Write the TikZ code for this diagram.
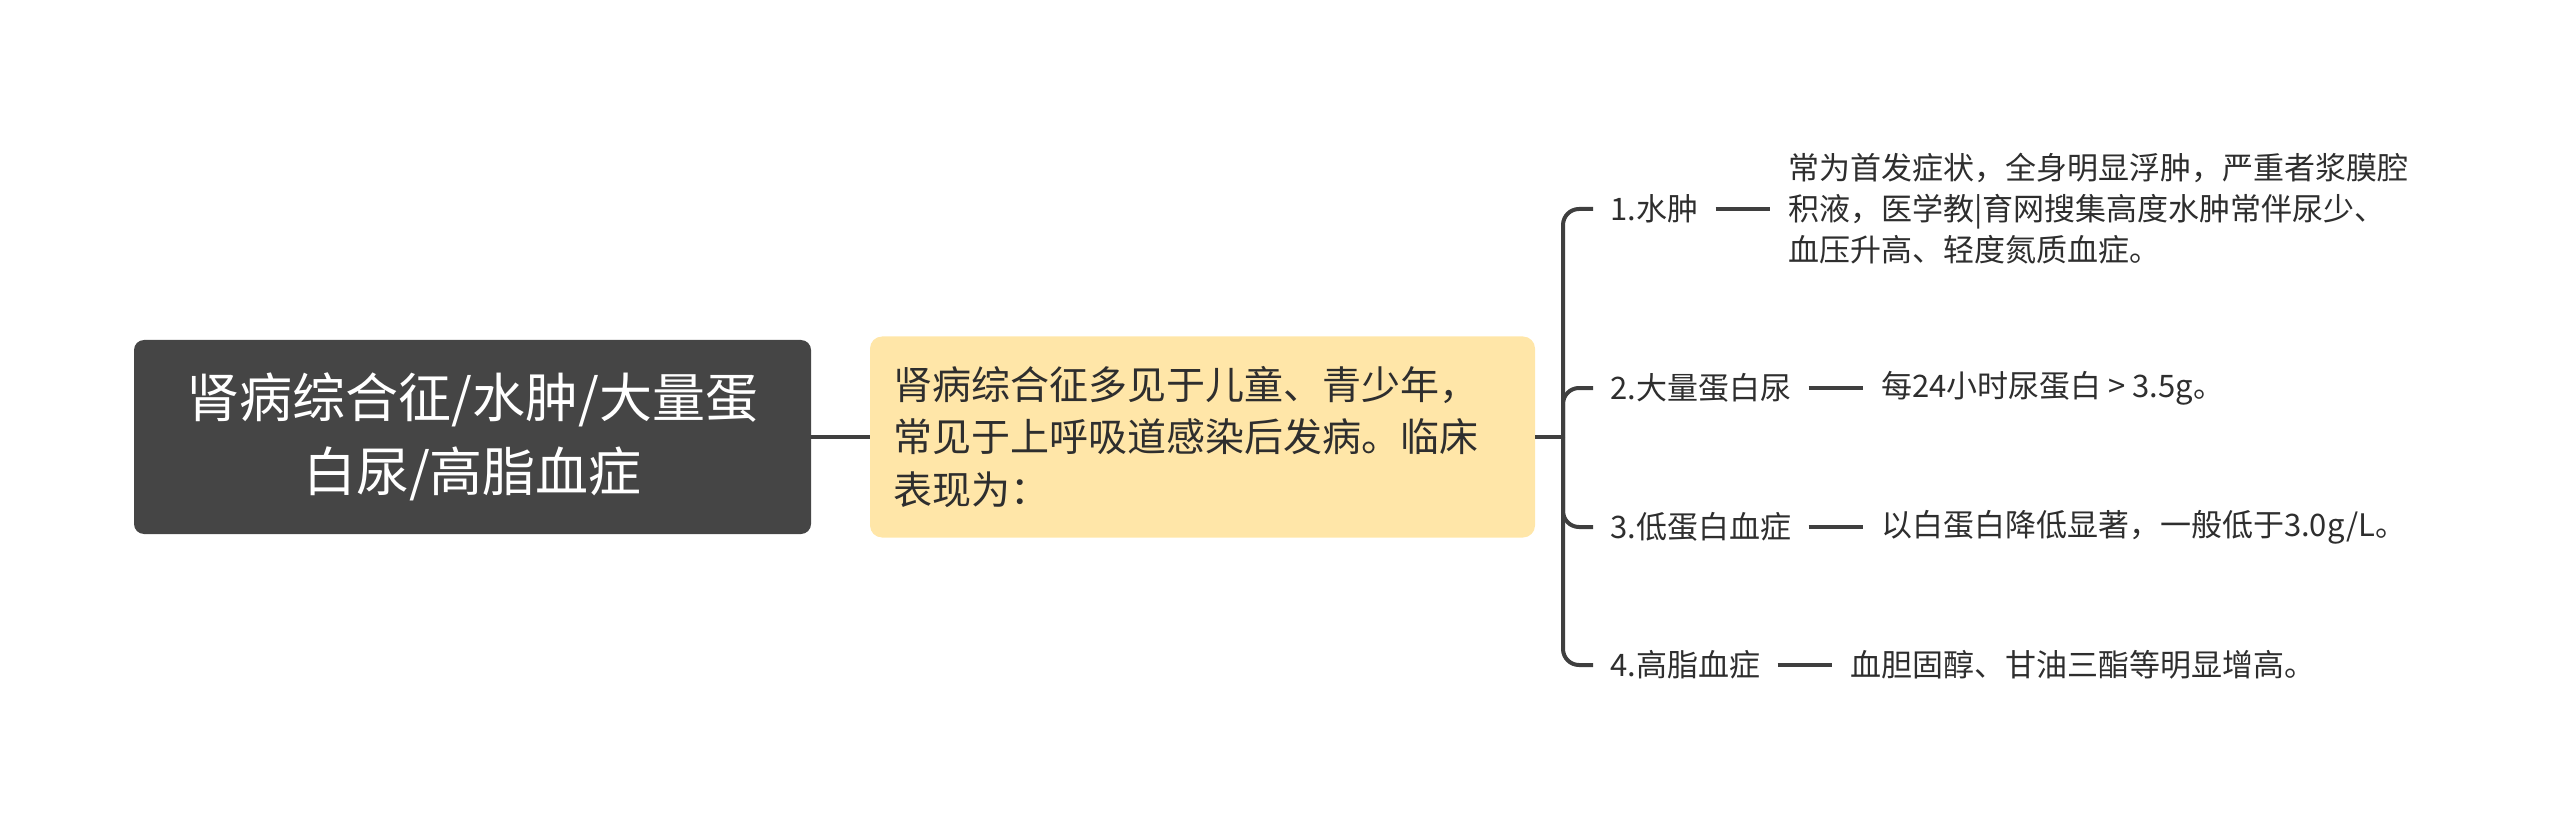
\documentclass[tikz,border=0pt]{standalone}
\usepackage{fontspec}
\newfontfamily\cjkfont{Noto Sans CJK SC}
\usetikzlibrary{positioning}
\definecolor{rootfill}{HTML}{454545}
\definecolor{midfill}{HTML}{FFE6A8}
\definecolor{linec}{HTML}{3F3F3F}
\definecolor{textc}{HTML}{2E2E2E}
\begin{document}
\begin{tikzpicture}[x=0.5pt,y=-0.5pt,
  rootbox/.style={fill=rootfill, rounded corners=5pt, minimum width=338.5pt, minimum height=97pt,
    text=white, align=center, inner sep=0pt, font=\cjkfont\fontsize{26.5pt}{37pt}\selectfont},
  midbox/.style={fill=midfill, rounded corners=6pt, minimum width=332.5pt, minimum height=100.5pt,
    text=textc, align=left, text width=309.5pt, inner xsep=11.5pt, inner ysep=0pt,
    font=\cjkfont\fontsize{19.5pt}{26.25pt}\selectfont},
  branch/.style={anchor=west, text=textc, inner xsep=8.5pt, inner ysep=2pt,
    font=\cjkfont\fontsize{15.5pt}{20.5pt}\selectfont},
  leaf/.style={text=textc, align=left, inner xsep=9pt, inner ysep=2pt,
    font=\cjkfont\fontsize{15.5pt}{20.5pt}\selectfont},
  conn/.style={draw=linec, line width=1.6pt},
  bconn/.style={draw=linec, line width=2pt, rounded corners=8pt},
  dconn/.style={draw=linec, line width=1.7pt}
]
\useasboundingbox (0,0) rectangle (2560,834);

\node[rootbox] (root) at (472.5,437) {肾病综合征/水肿/大量蛋\\白尿/高脂血症};
\node[midbox] (mid) at (1202.5,437) {肾病综合征多见于儿童、青少年，\\常见于上呼吸道感染后发病。临床\\表现为：};
\coordinate (J) at (1563,437);

\node[branch] (b1) at (1593,209) {1.水肿};
\node[branch] (b2) at (1593,388) {2.大量蛋白尿};
\node[branch] (b3) at (1593,527) {3.低蛋白血症};
\node[branch] (b4) at (1593,665) {4.高脂血症};

\node[leaf, right=27pt of b1] (l1) {常为首发症状，全身明显浮肿，严重者浆膜腔\\积液，医学教|育网搜集高度水肿常伴尿少、\\血压升高、轻度氮质血症。};
\node[leaf, right=27pt of b2] (l2) {每24小时尿蛋白 > 3.5g。};
\node[leaf, right=27pt of b3] (l3) {以白蛋白降低显著，一般低于3.0g/L。};
\node[leaf, right=27pt of b4] (l4) {血胆固醇、甘油三酯等明显增高。};

\draw[conn] (root.east) -- (mid.west);
\draw[conn] (mid.east) -- (J);
\draw[bconn] (J) |- (b1.west);
\draw[bconn] (J) |- (b2.west);
\draw[bconn] (J) |- (b3.west);
\draw[bconn] (J) |- (b4.west);
\draw[dconn] (b1) -- (l1);
\draw[dconn] (b2) -- (l2);
\draw[dconn] (b3) -- (l3);
\draw[dconn] (b4) -- (l4);
\end{tikzpicture}
\end{document}
